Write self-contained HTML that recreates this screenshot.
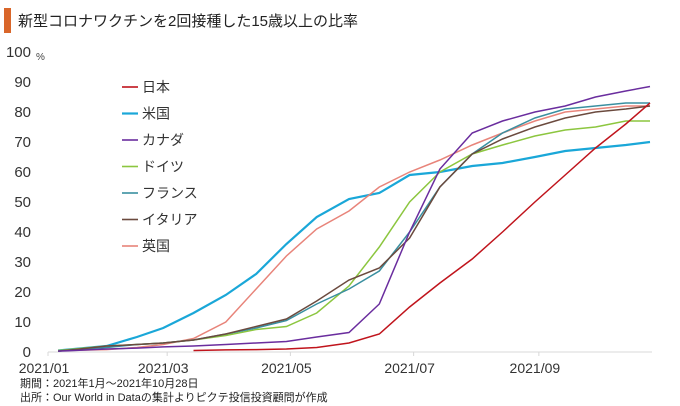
<!DOCTYPE html>
<html><head><meta charset="utf-8"><style>
body{margin:0;background:#fff;}
svg{display:block;font-family:"Liberation Sans","Noto Sans CJK JP",sans-serif;}
</style></head><body>
<svg id="chart" width="680" height="406">
<rect x="4" y="8" width="7" height="25" fill="#d9662a"/>
<text x="18" y="26" font-size="15" fill="#222">新型コロナワクチンを2回接種した15歳以上の比率</text>
<text x="36" y="60" font-size="10" fill="#444">%</text>
<g id="yticks"></g><g id="xticks"></g><g id="series"></g><g id="legend"></g>
<text x="20" y="387" font-size="11" fill="#222">期間：2021年1月～2021年10月28日</text>
<text x="20" y="401" font-size="11" fill="#222">出所：Our World in Dataの集計よりピクテ投信投資顧問が作成</text>
</svg>
<script>
const days=[7,15,31,46,59,74,90,105,120,135,151,166,181,196,212,227,243,258,273,288,300];
const seriesNames=["日本","米国","カナダ","ドイツ","フランス","イタリア","英国"];
const japan=[null,null,null,null,null,0.5,0.7,0.8,1,1.5,3,6,15,23,31,40,50,59,68,76,83];
const usa=[0.5,1,2,5,8,13,19,26,36,45,51,53,59,60,62,63,65,67,68,69,70];
const canada=[0.3,0.5,1,1.3,1.7,2,2.5,3,3.5,5,6.5,16,40,61,73,77,80,82,85,87,88.5];
const germany=[0.5,1,2,2.5,3,4,5.5,7.5,8.5,13,22,35,50,60,66,69,72,74,75,77,77];
const france=[0.3,0.8,1.5,2.5,3,4,6,8,10.5,16,21,27,40,55,66,73,78,81,82,83,83];
const italy=[0.3,0.8,2,2.5,3,4,6,8.5,11,17,24,28,38,55,66,71,75,78,80,81,82];
const uk=[0.5,0.6,0.8,1.5,2.5,4.5,10,21,32,41,47,55,60,64,69,73,77,80,81,82,82];
const yTicks=[0,10,20,30,40,50,60,70,80,90,100];
const xTickDays=[0,59,120,181,243];
const xTickLabels=["2021/01","2021/03","2021/05","2021/07","2021/09"];
const colors=["#c0141c","#1aa7d8","#6a2d9e","#8cc63f","#3a8fa0","#6b4a3e","#e8847a"];
const allSeries=[japan,usa,canada,germany,france,italy,uk];
const X=d=>44+d*2.02, Y=v=>352-v*3.0;
const NS="http://www.w3.org/2000/svg";
function mk(t,a,p){const e=document.createElementNS(NS,t);for(const k in a)e.setAttribute(k,a[k]);p.appendChild(e);return e;}
const yg=document.getElementById('yticks');
yTicks.forEach(v=>{const t=mk('text',{x:31,y:Y(v)+5,'font-size':15,fill:'#333','text-anchor':'end'},yg);t.textContent=v;

});
const xg=document.getElementById('xticks');
const ax=mk('line',{x1:48,x2:652,y1:Y(0),y2:Y(0),stroke:'#d8d8d8'},xg);


xTickDays.forEach((d,i)=>{const tk=mk('line',{x1:X(d)+4,x2:X(d)+4,y1:Y(0),y2:Y(0)+4,stroke:'#d8d8d8'},xg);


const t=mk('text',{x:X(d),y:373,'font-size':14,fill:'#333','text-anchor':'middle'},xg);t.textContent=xTickLabels[i];

});
const sg=document.getElementById('series');
const order=[1,6,3,4,5,2,0];
order.forEach(i=>{const s=allSeries[i];let d="";s.forEach((v,j)=>{if(v==null)return;d+=(d?"L":"M")+X(days[j]).toFixed(1)+","+Y(v).toFixed(1);});
const p=mk('path',{d:d,fill:'none',stroke:colors[i],'stroke-width':i==1?2.2:1.5},sg);

});
const lg=document.getElementById('legend');
seriesNames.forEach((n,i)=>{const y=87+i*26.5;
const l=mk('line',{x1:122,x2:138,y1:y,y2:y,stroke:colors[i],'stroke-width':i==1?2.2:1.6},lg);


const t=mk('text',{x:142,y:y+5,'font-size':14,fill:'#333'},lg);t.textContent=n;

});
</script>
</body></html>
